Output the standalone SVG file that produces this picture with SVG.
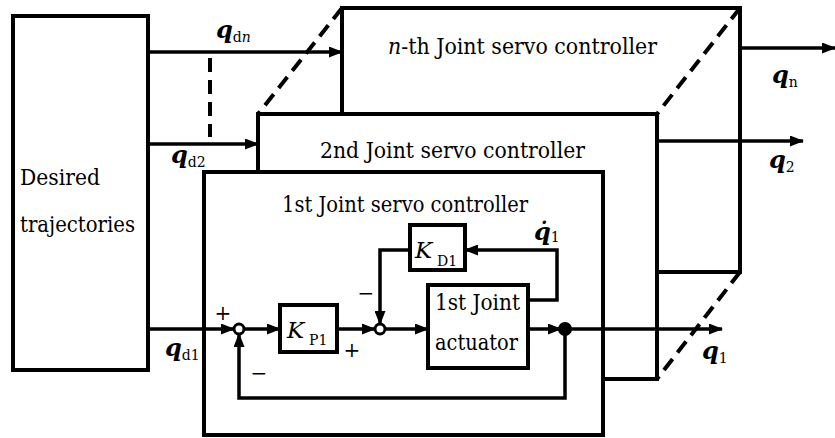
<svg xmlns="http://www.w3.org/2000/svg" width="835" height="438" viewBox="0 0 835 438">
<style>
.box{fill:#fff;stroke:#000;stroke-width:4}
.ln{fill:none;stroke:#000;stroke-width:3.5}
.dash{fill:none;stroke:#000;stroke-width:4;stroke-dasharray:14 8}
text{font-family:'DejaVu Serif','Liberation Serif',serif;fill:#000}
.q{font-weight:bold;font-style:italic;font-size:24px}
.sub{font-weight:normal;font-style:normal;font-size:14px}
.sum{fill:#fff;stroke:#000;stroke-width:3}
.sg{font-size:20px;font-weight:normal}
</style>
<defs>
<marker id="arr" markerUnits="userSpaceOnUse" markerWidth="14" markerHeight="11" refX="13" refY="5.5" orient="auto">
<path d="M0,0 L14,5.5 L0,11 z" fill="#000"/>
</marker>
</defs>
<rect width="835" height="438" fill="#fff"/>

<g id="desired">
<rect class="box" x="13" y="16" width="135" height="354"/>
<text x="20" y="185" font-size="23" textLength="80" lengthAdjust="spacingAndGlyphs">Desired</text>
<text x="20" y="232" font-size="23" textLength="115" lengthAdjust="spacingAndGlyphs">trajectories</text>
</g>

<g id="nth-controller">
<rect class="box" x="342" y="8" width="398" height="264"/>
<text x="388" y="54" font-size="23" textLength="269" lengthAdjust="spacingAndGlyphs"><tspan font-style="italic">n</tspan>-th Joint servo controller</text>
</g>

<g id="dashes">
<line class="dash" x1="342" y1="8" x2="258" y2="114"/>
<line class="dash" x1="740" y1="8" x2="657" y2="114"/>
<line class="dash" x1="740" y1="272" x2="657" y2="379"/>
<line class="dash" x1="210" y1="58" x2="210" y2="137"/>
</g>

<g id="second-controller">
<rect class="box" x="258" y="114" width="399" height="265"/>
<text x="320" y="158" font-size="23" textLength="265" lengthAdjust="spacingAndGlyphs">2nd Joint servo controller</text>
</g>

<g id="first-controller">
<rect class="box" x="204" y="172" width="399" height="263"/>
<text x="282" y="212" font-size="22" textLength="246" lengthAdjust="spacingAndGlyphs">1st Joint servo controller</text>
</g>

<g id="sum1">
<circle class="sum" cx="239" cy="329" r="5"/>
</g>
<g id="sum2">
<circle class="sum" cx="380" cy="329" r="5"/>
</g>

<g id="kp1">
<rect class="box" x="280" y="305" width="57" height="47"/>
<text x="287" y="338" font-size="23" font-style="italic">K</text>
<text x="309" y="345" font-size="14">P1</text>
</g>

<g id="kd1">
<rect class="box" x="410" y="225" width="55" height="45"/>
<text x="415" y="258" font-size="23" font-style="italic">K</text>
<text x="437" y="266" font-size="14">D1</text>
</g>

<g id="actuator">
<rect class="box" x="428" y="285" width="100" height="83"/>
<text x="435" y="310" font-size="22" textLength="85" lengthAdjust="spacingAndGlyphs">1st Joint</text>
<text x="435" y="350" font-size="22" textLength="83" lengthAdjust="spacingAndGlyphs">actuator</text>
</g>

<g id="connectors">
<line class="ln" x1="148" y1="52" x2="342" y2="52" marker-end="url(#arr)"/>
<line class="ln" x1="148" y1="144" x2="258" y2="144" marker-end="url(#arr)"/>
<line class="ln" x1="740" y1="48" x2="835" y2="48" marker-end="url(#arr)"/>
<line class="ln" x1="657" y1="141" x2="803" y2="141" marker-end="url(#arr)"/>
<line class="ln" x1="148" y1="329" x2="234" y2="329" marker-end="url(#arr)"/>
<line class="ln" x1="244" y1="329" x2="280" y2="329" marker-end="url(#arr)"/>
<line class="ln" x1="337" y1="329" x2="375" y2="329" marker-end="url(#arr)"/>
<line class="ln" x1="385" y1="329" x2="428" y2="329" marker-end="url(#arr)"/>
<line class="ln" x1="528" y1="329" x2="561" y2="329" marker-end="url(#arr)"/>
<line class="ln" x1="565" y1="329" x2="722" y2="329" marker-end="url(#arr)"/>
<polyline class="ln" points="565,329 565,398 239,398 239,334" marker-end="url(#arr)"/>
<polyline class="ln" points="528,300 557,300 557,250 465,250" marker-end="url(#arr)"/>
<polyline class="ln" points="410,250 380,250 380,324" marker-end="url(#arr)"/>
<circle cx="565" cy="329" r="7" fill="#000"/>
</g>

<g id="labels">
<text class="q" x="216" y="38">q<tspan class="sub" dy="4">d<tspan font-style="italic">n</tspan></tspan></text>
<text class="q" x="171" y="163">q<tspan class="sub" dy="4">d2</tspan></text>
<text class="q" x="165" y="356">q<tspan class="sub" dy="4">d1</tspan></text>
<text class="q" x="772" y="83">q<tspan class="sub" dy="4" font-style="italic">n</tspan></text>
<text class="q" x="769" y="168">q<tspan class="sub" dy="4">2</tspan></text>
<text class="q" x="702" y="359">q<tspan class="sub" dy="4">1</tspan></text>
<text class="q" x="534" y="240">q̇<tspan class="sub" font-size="16" dy="2">1</tspan></text>
<text class="sg" x="223" y="320" text-anchor="middle">+</text>
<text class="sg" x="352" y="357" text-anchor="middle">+</text>
<text class="sg" x="366" y="300" text-anchor="middle">−</text>
<text class="sg" x="259" y="380" text-anchor="middle">−</text>
</g>
</svg>
